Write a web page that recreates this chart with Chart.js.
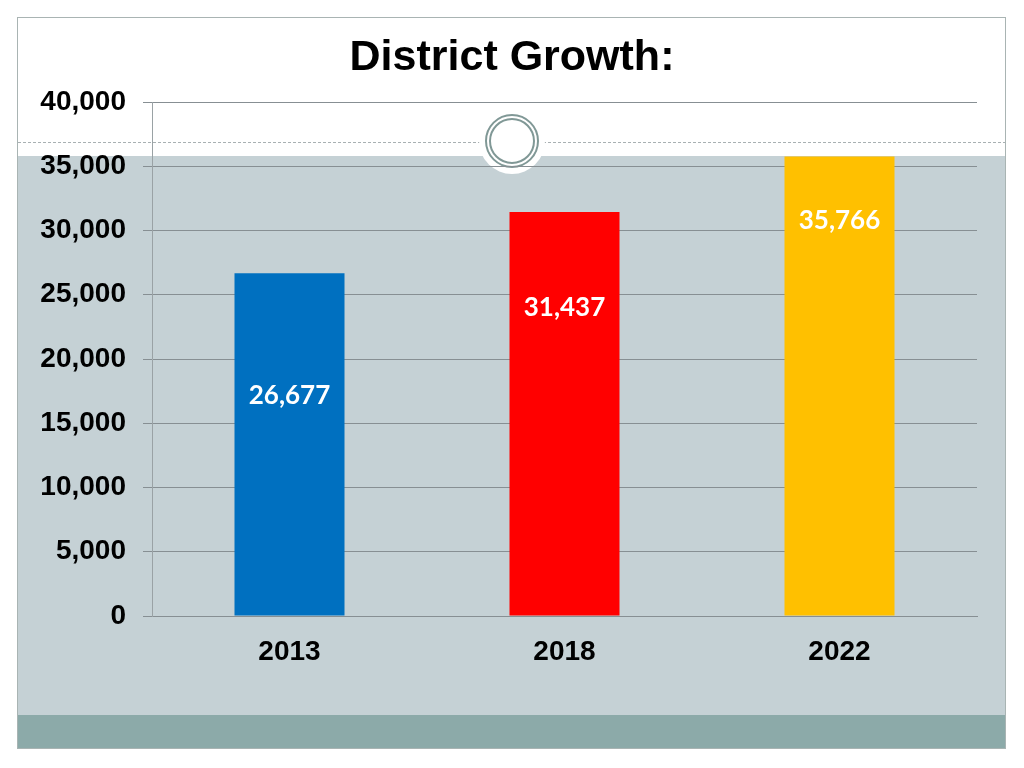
<!DOCTYPE html>
<html>
<head>
<meta charset="utf-8">
<title>District Growth</title>
<script src="https://cdn.jsdelivr.net/npm/chart.js@4/dist/chart.umd.min.js"></script>
<style>
  html, body { margin: 0; padding: 0; background: #ffffff; }
  canvas { display: block; }
</style>
</head>
<body>
<canvas id="growth" width="1024" height="768"></canvas>
<script>
// chart data
const chartTitle = "District Growth:";
const years = ["2013", "2018", "2022"];
const students = [26677, 31437, 35766];
const barColors = ["#0070c0", "#ff0000", "#ffc000"];
const yTicks = [0, 5000, 10000, 15000, 20000, 25000, 30000, 35000, 40000];

// how far below each bar top its value label sits (px)
const labelDrop = [122, 96, 64];

// slide background: white header, grey panel, teal footer, ring ornament, title
const slideBackground = {
  id: "slideBackground",
  beforeDraw(chart) {
    const ctx = chart.ctx;
    ctx.save();
    ctx.fillStyle = "#ffffff";
    ctx.fillRect(0, 0, chart.width, chart.height);

    // grey panel
    ctx.fillStyle = "#c5d1d5";
    ctx.fillRect(17, 156, 988, 559);
    // teal footer strip
    ctx.fillStyle = "#8caaa9";
    ctx.fillRect(17, 715, 988, 33);

    // outer frame
    ctx.strokeStyle = "#a9b4b3";
    ctx.lineWidth = 1;
    ctx.strokeRect(17.5, 17.5, 988, 731);

    // dashed separator
    ctx.strokeStyle = "#a8b0b2";
    ctx.setLineDash([3, 2]);
    ctx.beginPath();
    ctx.moveTo(18, 142.5);
    ctx.lineTo(1005, 142.5);
    ctx.stroke();
    ctx.setLineDash([]);

    // ring ornament
    ctx.fillStyle = "#ffffff";
    ctx.beginPath();
    ctx.arc(512, 141, 33, 0, Math.PI * 2);
    ctx.fill();
    ctx.strokeStyle = "#809896";
    ctx.lineWidth = 2;
    ctx.beginPath();
    ctx.arc(512, 141, 26, 0, Math.PI * 2);
    ctx.stroke();
    ctx.beginPath();
    ctx.arc(512, 141, 22, 0, Math.PI * 2);
    ctx.stroke();

    // title, centred on the slide
    ctx.fillStyle = "#000000";
    ctx.font = "bold 43px 'Liberation Sans', Arial, sans-serif";
    ctx.textAlign = "center";
    ctx.textBaseline = "middle";
    ctx.fillText(chartTitle, 512, 58);
    ctx.restore();
  },
};

// white value labels inside the bars
const valueLabels = {
  id: "valueLabels",
  afterDatasetsDraw(chart) {
    const ctx = chart.ctx;
    const meta = chart.getDatasetMeta(0);
    ctx.save();
    ctx.fillStyle = "#ffffff";
    ctx.font = "bold 26px Lato, 'DejaVu Sans', sans-serif";
    ctx.textAlign = "center";
    ctx.textBaseline = "middle";
    meta.data.forEach((bar, i) => {
      ctx.fillText(students[i].toLocaleString("en-US"), bar.x, bar.y + labelDrop[i]);
    });
    ctx.restore();
  },
};

new Chart(document.getElementById("growth"), {
  type: "bar",
  data: {
    labels: years,
    datasets: [
      {
        label: "District Growth",
        data: students,
        backgroundColor: barColors,
        borderWidth: 0,
        categoryPercentage: 1,
        barPercentage: 0.4,
      },
    ],
  },
  options: {
    responsive: false,
    animation: false,
    layout: {
      padding: { top: 102, right: 47, bottom: 0, left: 0 },
    },
    plugins: {
      legend: { display: false },
      tooltip: { enabled: false },
      title: { display: false },
    },
    scales: {
      x: {
        grid: { display: false, drawTicks: false },
        border: { display: true, color: "#878f93", width: 1 },
        ticks: {
          color: "#000000",
          padding: 19,
          font: { family: "'Liberation Sans', Arial, sans-serif", size: 28, weight: "bold" },
        },
        afterFit(scale) {
          scale.height = 152;
        },
      },
      y: {
        min: 0,
        max: 40000,
        afterBuildTicks(scale) {
          scale.ticks = yTicks.map((v) => ({ value: v }));
        },
        grid: {
          color: "#878f93",
          lineWidth: 1,
          tickLength: 9,
          tickColor: "#878f93",
        },
        border: { display: true, color: "#9aa2a5", width: 1 },
        ticks: {
          color: "#000000",
          padding: 17,
          font: { family: "'Liberation Sans', Arial, sans-serif", size: 28, weight: "bold" },
          callback: (v) => v.toLocaleString("en-US"),
        },
        afterFit(scale) {
          scale.width = 152;
        },
      },
    },
  },
  plugins: [slideBackground, valueLabels],
});
</script>
</body>
</html>
